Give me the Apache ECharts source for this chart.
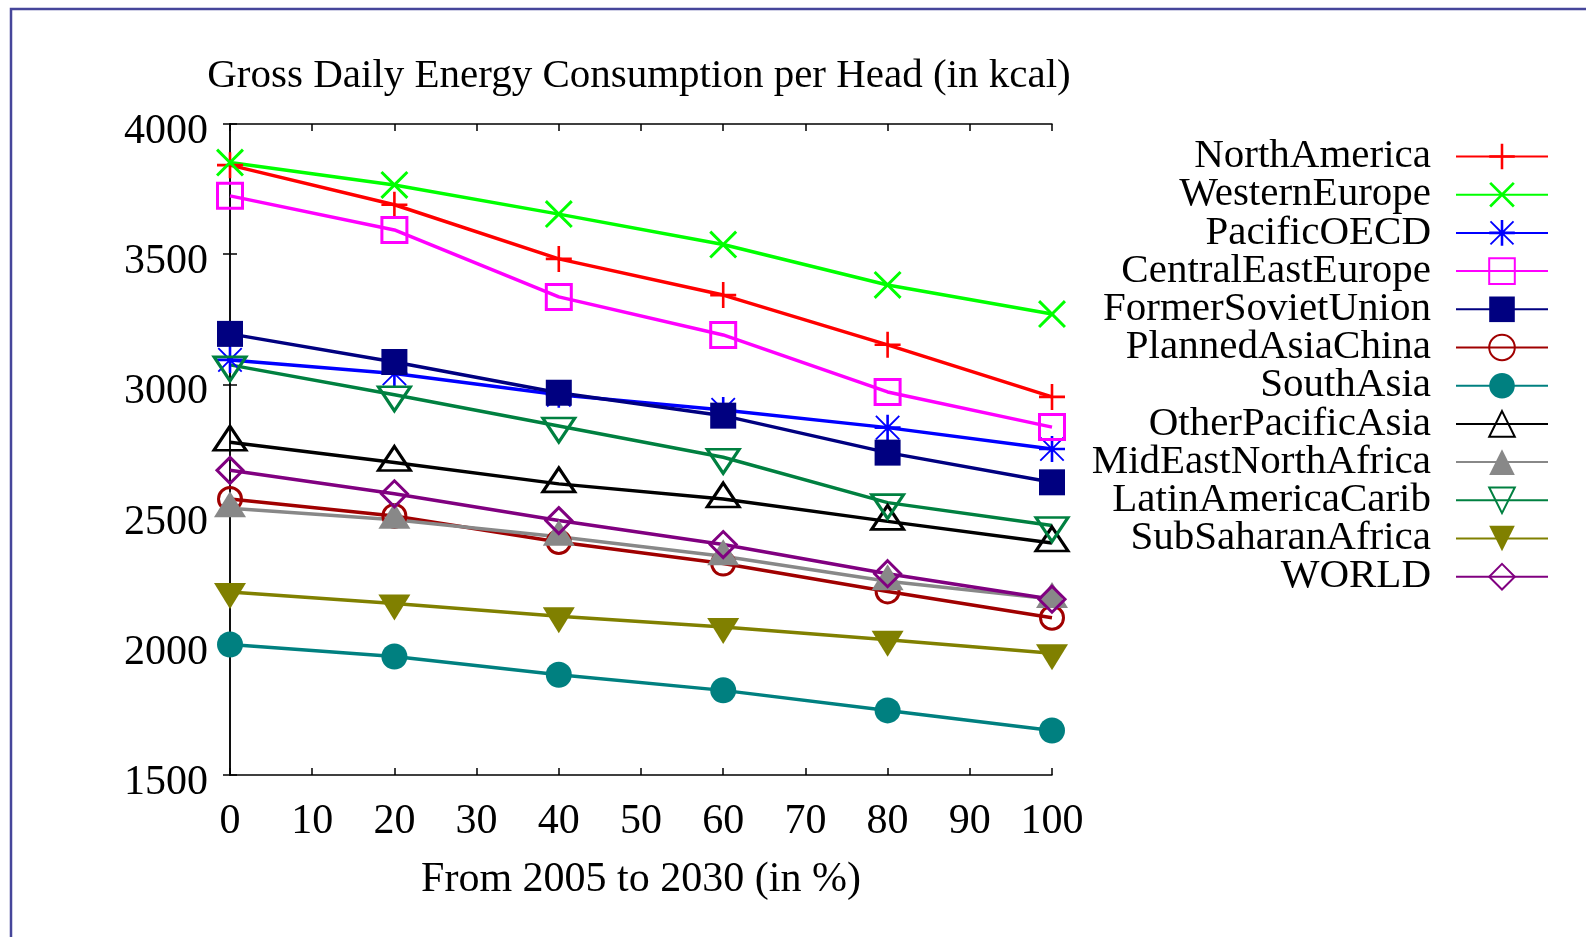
<!DOCTYPE html>
<html>
<head>
<meta charset="utf-8">
<script src="https://cdn.jsdelivr.net/npm/echarts@6/dist/echarts.min.js"></script>
<style>
  html, body { margin: 0; padding: 0; background: #ffffff; }
  #chart { width: 1586px; height: 937px; }
</style>
</head>
<body>
<div id="chart"></div>
<script>
// Progress from 2005 to 2030 (in %)
const xValues = [0, 20, 40, 60, 80, 100];
const xTicks = [0, 10, 20, 30, 40, 50, 60, 70, 80, 90, 100];
const yTicks = [1500, 2000, 2500, 3000, 3500, 4000];

// Gross daily energy consumption per head (kcal) by region
const northAmerica       = [3842, 3690, 3482, 3343, 3152, 2952];
const westernEurope      = [3852, 3766, 3654, 3537, 3382, 3270];
const pacificOECD        = [3094, 3042, 2960, 2902, 2834, 2752];
const centralEastEurope  = [3724, 3593, 3336, 3190, 2971, 2836];
const formerSovietUnion  = [3194, 3086, 2968, 2880, 2738, 2624];
const plannedAsiaChina   = [2560, 2495, 2395, 2312, 2205, 2104];
const southAsia          = [2001, 1955, 1885, 1825, 1748, 1671];
const otherPacificAsia   = [2778, 2700, 2618, 2560, 2474, 2391];
const midEastNorthAfrica = [2524, 2480, 2415, 2340, 2244, 2176];
const latinAmericaCarib  = [3075, 2960, 2840, 2720, 2546, 2458];
const subSaharanAfrica   = [2203, 2159, 2110, 2068, 2019, 1968];
const world              = [2670, 2580, 2477, 2385, 2273, 2175];

const regionNames = ['NorthAmerica', 'WesternEurope', 'PacificOECD', 'CentralEastEurope',
  'FormerSovietUnion', 'PlannedAsiaChina', 'SouthAsia', 'OtherPacificAsia',
  'MidEastNorthAfrica', 'LatinAmericaCarib', 'SubSaharanAfrica', 'WORLD'];
const regionValues = [northAmerica, westernEurope, pacificOECD, centralEastEurope,
  formerSovietUnion, plannedAsiaChina, southAsia, otherPacificAsia,
  midEastNorthAfrica, latinAmericaCarib, subSaharanAfrica, world];

// gnuplot-like point shapes
const PLUS = 'path://M9,0H11V9H20V11H11V20H9V11H0V9H9Z';
const CROSS = 'path://M0,1.5L1.5,0L10,8.5L18.5,0L20,1.5L11.5,10L20,18.5L18.5,20L10,11.5L1.5,20L0,18.5L8.5,10Z';
const STAR = 'path://M9,0H11V9H20V11H11V20H9V11H0V9H9Z' +
  'M1.5,0.5L10,9L18.5,0.5L19.5,1.5L11,10L19.5,18.5L18.5,19.5L10,11L1.5,19.5L0.5,18.5L9,10L0.5,1.5Z';

const styles = [
  { color: '#ff0000', symbol: PLUS, size: 26, open: false },
  { color: '#00ff00', symbol: CROSS, size: 28, open: false },
  { color: '#0000ff', symbol: STAR, size: 26, open: false },
  { color: '#ff00ff', symbol: 'rect', size: 25, open: true },
  { color: '#000080', symbol: 'rect', size: 26, open: false },
  { color: '#a00000', symbol: 'circle', size: 23, open: true },
  { color: '#008080', symbol: 'circle', size: 26, open: false },
  { color: '#000000', symbol: 'triangle', size: [32, 24], open: true, offset: [0, -4] },
  { color: '#888888', symbol: 'triangle', size: [32, 26], open: false, offset: [0, -4] },
  { color: '#008040', symbol: 'triangle', size: [32, 24], open: true, rotate: 180, offset: [0, 4] },
  { color: '#808000', symbol: 'triangle', size: [32, 26], open: false, rotate: 180, offset: [0, 4] },
  { color: '#800080', symbol: 'diamond', size: [26, 26], open: true }
];

const FONT = '"Liberation Serif", "DejaVu Serif", serif';

const series = regionNames.map((name, i) => {
  const st = styles[i];
  return {
    name: name,
    type: 'line',
    xAxisIndex: 0,
    yAxisIndex: 0,
    data: xValues.map((x, k) => [x, regionValues[i][k]]),
    color: st.color,
    symbol: st.symbol,
    symbolSize: st.size,
    symbolRotate: st.rotate || 0,
    symbolOffset: st.offset || [0, 0],
    showAllSymbol: true,
    lineStyle: { color: st.color, width: 3.5 },
    itemStyle: st.open
      ? { color: 'rgba(255,255,255,0)', borderColor: st.color, borderWidth: 3 }
      : { color: st.color, borderWidth: 0 },
    emphasis: { disabled: true },
    animation: false
  };
});

const axisLine = { show: true, lineStyle: { color: '#000', width: 1.5 } };
const tick = { show: true, inside: true, length: 7, lineStyle: { color: '#000', width: 1.5 } };

const chart = echarts.init(document.getElementById('chart'), null, { renderer: 'canvas' });
chart.setOption({
  backgroundColor: '#ffffff',
  animation: false,
  graphic: [
    {
      type: 'rect',
      shape: { x: 11, y: 9, width: 2000, height: 2000 },
      style: { fill: 'none', stroke: '#46469a', lineWidth: 2.5 },
      silent: true
    },
    {
      type: 'text',
      x: 639,
      y: 76,
      style: {
        text: 'Gross Daily Energy Consumption per Head (in kcal)',
        font: '41px ' + FONT,
        fill: '#000',
        textAlign: 'center',
        textVerticalAlign: 'middle'
      },
      silent: true
    }
  ],
  grid: { left: 230, top: 124, width: 822, height: 651, containLabel: false },
  legend: {
    orient: 'vertical',
    right: 32,
    top: 131,
    align: 'right',
    itemWidth: 92,
    itemHeight: 32,
    itemGap: -2.8,
    selectedMode: false,
    textStyle: { fontFamily: FONT, fontSize: 41, color: '#000', padding: [0, 20, 0, 0] },
    data: regionNames
  },
  xAxis: [
    {
      type: 'value', min: 0, max: 100, interval: 10, position: 'bottom',
      axisLine: axisLine,
      axisTick: tick,
      axisLabel: { fontFamily: FONT, fontSize: 42, color: '#000', margin: 26 },
      splitLine: { show: false },
      name: 'From 2005 to 2030 (in %)',
      nameLocation: 'middle',
      nameGap: 84,
      nameTextStyle: { fontFamily: FONT, fontSize: 42, color: '#000' }
    },
    {
      type: 'value', min: 0, max: 100, interval: 10, position: 'top',
      axisLine: axisLine,
      axisTick: tick,
      axisLabel: { show: false },
      splitLine: { show: false }
    }
  ],
  yAxis: [
    {
      type: 'value', min: 1500, max: 4000, interval: 500, position: 'left',
      axisLine: axisLine,
      axisTick: tick,
      axisLabel: {
        fontFamily: FONT, fontSize: 42, color: '#000', margin: 22,
        verticalAlign: 'top', lineHeight: 16,
        formatter: (v) => String(v)
      },
      splitLine: { show: false }
    },
    {
      type: 'value', min: 1500, max: 4000, interval: 500, position: 'right',
      axisLine: axisLine,
      axisTick: tick,
      axisLabel: { show: false },
      splitLine: { show: false }
    }
  ],
  series: series
});
</script>
</body>
</html>
